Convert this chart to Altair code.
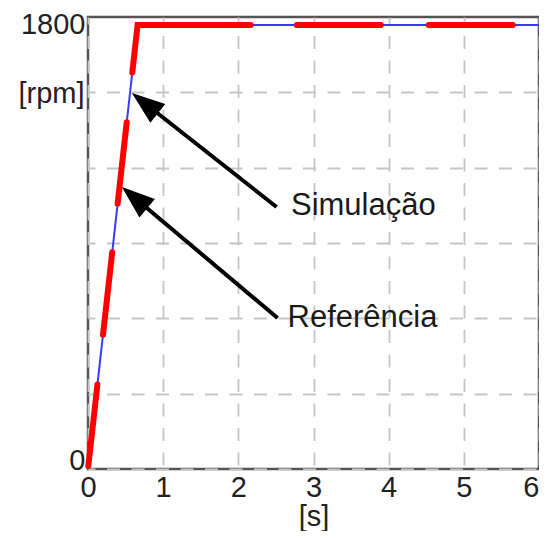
import math
import altair as alt
import pandas as pd

# ---------------- data ----------------
time_s = [0.0, 0.66, 6.0]
sim_rpm = [0, 1800, 1800]
ref_rpm = [0, 1800, 1800]

x_ticks = [0, 1, 2, 3, 4, 5, 6]
y_ticks = [0, 1800]
X_MAX = 6
Y_MAX = 1832

ann_labels = ["Simulação", "Referência"]
ann_text_x = [2.70, 2.655]
ann_text_y = [1030, 575]
arrow_tail_x = [2.509, 2.522]
arrow_tail_y = [1062, 612]
arrow_tip_x = [0.584, 0.451]
arrow_tip_y = [1524, 1143]

# ---------------- layout / style ----------------
W = 451
H = 452
FONT = "Liberation Sans"
LABEL_SIZE = 29
HEAD_LEN = 33
pxx = W / X_MAX
pxy = H / Y_MAX

lines_df = pd.DataFrame(
    {"t": time_s * 2, "rpm": sim_rpm + ref_rpm,
     "serie": ["sim"] * len(time_s) + ["ref"] * len(time_s)}
)

rows = []
for lab, tx, ty, ax, ay, hx, hy in zip(ann_labels, ann_text_x, ann_text_y,
                                       arrow_tail_x, arrow_tail_y, arrow_tip_x, arrow_tip_y):
    dxp = (hx - ax) * pxx
    dyp = -(hy - ay) * pxy
    ang = math.degrees(math.atan2(dxp, -dyp)) % 360
    L = math.hypot(dxp, dyp)
    f = (HEAD_LEN * 0.6) / L
    rows.append({"label": lab, "tx": tx, "ty": ty, "ax": ax, "ay": ay,
                 "hx": hx, "hy": hy, "ex": hx + (ax - hx) * f, "ey": hy + (ay - hy) * f,
                 "angle": ang})
ann_df = pd.DataFrame(rows)

grid_x = [X_MAX * i / 12 for i in range(13)]
grid_y = [Y_MAX * i / 12 for i in range(13)]

x_label_list = ",".join(str(v) for v in x_ticks)
y_label_list = ",".join(str(v) for v in y_ticks)

x_scale = alt.Scale(domain=[0, X_MAX], nice=False, zero=False)
y_scale = alt.Scale(domain=[0, Y_MAX], nice=False, zero=False)

x_axis = alt.Axis(
    values=grid_x,
    labelExpr=f"indexof([{x_label_list}], datum.value) >= 0 ? toString(datum.value) : ''",
    labelAlign={"condition": {"test": f"datum.value == {X_MAX}", "value": "right"}, "value": "center"},
    title="[s]", titleX=225.5, titleY=56, titleAlign="center", titleBaseline="alphabetic",
    labelPadding=4, labelBaseline="top", labelFlush=False, labelOverlap=False,
    labelFontSize=LABEL_SIZE, titleFontSize=LABEL_SIZE, labelFont=FONT, titleFont=FONT,
)
y_axis = alt.Axis(
    values=grid_y + [1800],
    labelExpr=f"indexof([{y_label_list}], datum.value) >= 0 ? toString(datum.value) : ''",
    labelBaseline={"condition": {"test": "datum.value == 0", "value": "alphabetic"}, "value": "middle"},
    gridOpacity={"condition": {"test": "datum.value == 1800", "value": 0}, "value": 1},
    title="[rpm]", titleAngle=0, titleX=-4, titleY=85, titleAlign="right", titleBaseline="alphabetic",
    labelPadding=3, labelFlush=False, labelOverlap=False,
    labelFontSize=LABEL_SIZE, titleFontSize=LABEL_SIZE, labelFont=FONT, titleFont=FONT,
)

base = alt.Chart(lines_df)

sim_line = base.transform_filter(alt.datum.serie == "sim").mark_line(
    color="#3a3aff", strokeWidth=2
).encode(
    x=alt.X("t:Q", scale=x_scale, axis=x_axis),
    y=alt.Y("rpm:Q", scale=y_scale, axis=y_axis),
    order="t:Q",
)

ref_line = base.transform_filter(alt.datum.serie == "ref").mark_line(
    color="#ff0000", strokeWidth=6, strokeCap="round",
    strokeDash=[82, 50, 83, 49, 82, 50, 161, 46, 84, 48, 84, 60],
    strokeDashOffset=-3,
).encode(
    x=alt.X("t:Q", scale=x_scale),
    y=alt.Y("rpm:Q", scale=y_scale),
    order="t:Q",
)

ann = alt.Chart(ann_df)
shafts = ann.mark_rule(color="black", strokeWidth=4).encode(
    x=alt.X("ax:Q", scale=x_scale), y=alt.Y("ay:Q", scale=y_scale),
    x2="ex:Q", y2="ey:Q",
)
heads = ann.mark_point(
    shape="M0,0L0.73,2L-0.73,2Z", filled=True, color="black", opacity=1,
    size=HEAD_LEN ** 2,
).encode(
    x=alt.X("hx:Q", scale=x_scale), y=alt.Y("hy:Q", scale=y_scale),
    angle=alt.Angle("angle:Q", scale=None),
)
texts = ann.mark_text(
    align="left", baseline="alphabetic", font=FONT, fontSize=31, color="#1a1a1a"
).encode(
    x=alt.X("tx:Q", scale=x_scale), y=alt.Y("ty:Q", scale=y_scale), text="label:N",
)

chart = alt.layer(sim_line, ref_line, shafts, heads, texts).properties(
    width=W, height=H,
    autosize=alt.AutoSizeParams(type="none"),
    padding={"left": 80, "top": 9, "right": 0, "bottom": 62},
    background="white",
).configure_view(
    stroke="#555555", strokeWidth=2.5,
).configure_axis(
    domain=False, ticks=False, tickSize=0,
    grid=True, gridColor="#c6c6c6", gridWidth=1.8, gridDash=[13, 11.5], gridDashOffset=6,
    labelFont=FONT, labelFontSize=LABEL_SIZE, labelColor="#222222",
    titleFont=FONT, titleFontSize=LABEL_SIZE, titleColor="#222222", titleFontWeight="normal",
)

chart.save("out.html", embed_options={"renderer": "svg", "actions": False})
